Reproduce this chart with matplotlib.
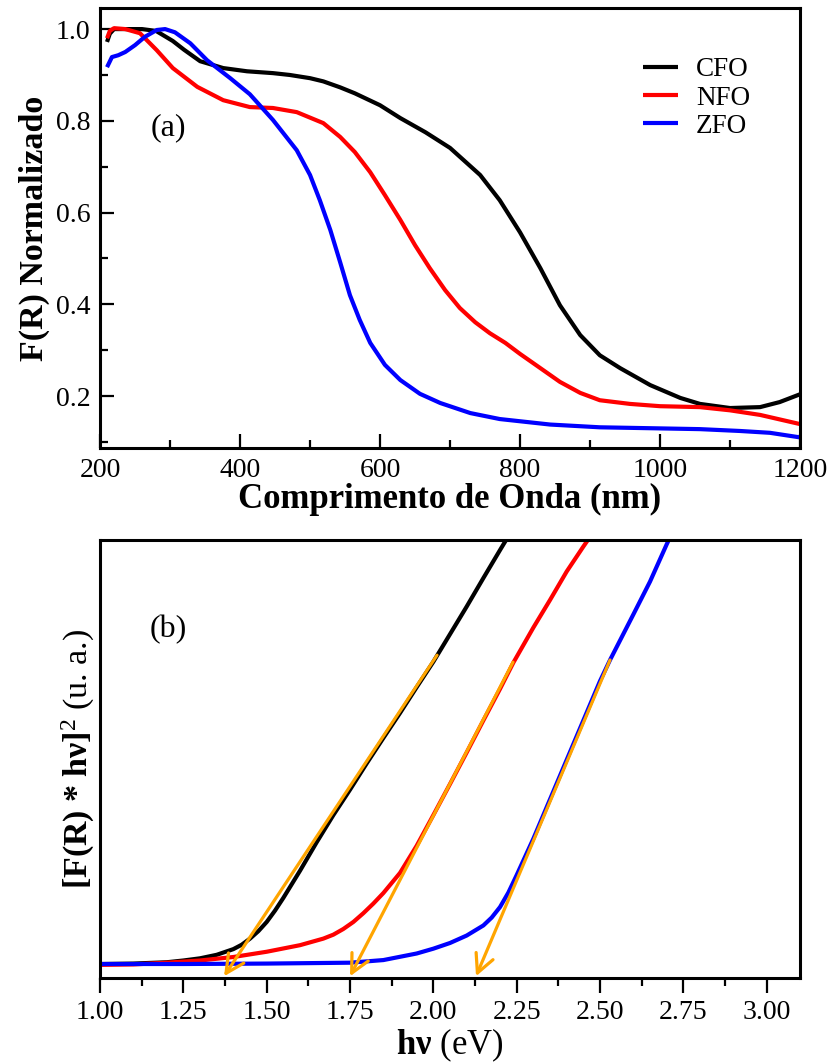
import numpy as np
import matplotlib
matplotlib.use('Agg')
import matplotlib.pyplot as plt
from matplotlib.ticker import MultipleLocator

plt.rcParams['font.family'] = 'Liberation Serif'
plt.rcParams['mathtext.fontset'] = 'custom'
plt.rcParams['mathtext.rm'] = 'Liberation Serif'
plt.rcParams['mathtext.bf'] = 'Liberation Serif:bold'
plt.rcParams['mathtext.it'] = 'Liberation Serif:italic'

samples = ['CFO', 'NFO', 'ZFO']
colors = ['black', 'red', 'blue']

# (a) normalised Kubelka-Munk spectra
wl_cfo = [210, 214, 220, 240, 260, 280, 304, 320, 343, 376, 410, 447, 471, 500, 519, 543,
          564, 600, 629, 665, 700, 743, 771, 800, 829, 857, 886, 914, 943, 986, 1029, 1057,
          1100, 1143, 1171, 1200]
fr_cfo = [0.972, 0.99, 1.0, 1.0, 1.0, 0.996, 0.974, 0.955, 0.93, 0.915, 0.908, 0.904, 0.90,
          0.893, 0.886, 0.873, 0.860, 0.834, 0.806, 0.775, 0.741, 0.682, 0.627, 0.557, 0.479,
          0.398, 0.333, 0.289, 0.261, 0.224, 0.196, 0.183, 0.174, 0.176, 0.187, 0.204]

wl_nfo = [210, 214, 220, 236, 257, 281, 304, 339, 376, 414, 447, 481, 519, 543, 564, 586,
          607, 629, 650, 671, 693, 714, 736, 757, 779, 800, 829, 857, 886, 914, 957, 1000,
          1057, 1100, 1143, 1200]
fr_nfo = [0.980, 0.996, 1.002, 1.0, 0.991, 0.954, 0.915, 0.874, 0.845, 0.830, 0.828, 0.819,
          0.795, 0.765, 0.732, 0.688, 0.638, 0.584, 0.529, 0.479, 0.431, 0.392, 0.361, 0.337,
          0.316, 0.292, 0.261, 0.231, 0.207, 0.191, 0.183, 0.178, 0.176, 0.169, 0.159, 0.139]

wl_zfo = [210, 217, 226, 236, 250, 264, 281, 293, 307, 329, 353, 386, 414, 447, 481, 500,
          514, 529, 543, 557, 571, 586, 607, 629, 657, 686, 729, 771, 843, 914, 986, 1057,
          1114, 1157, 1200]
fr_zfo = [0.917, 0.939, 0.943, 0.950, 0.965, 0.983, 0.998, 1.0, 0.993, 0.969, 0.932, 0.893,
          0.858, 0.802, 0.736, 0.682, 0.627, 0.562, 0.492, 0.420, 0.366, 0.316, 0.268, 0.235,
          0.205, 0.185, 0.163, 0.150, 0.138, 0.132, 0.130, 0.128, 0.124, 0.120, 0.110]

# (b) Tauc plot
hv_cfo = [1.0, 1.1, 1.2, 1.25, 1.3, 1.35, 1.4, 1.425, 1.45, 1.475, 1.5, 1.525, 1.55, 1.6,
          1.65, 1.7, 1.75, 1.8, 1.85, 1.9, 1.95, 2.0, 2.05, 2.1, 2.15, 2.2, 2.25]
tauc_cfo = [0.032, 0.033, 0.036, 0.040, 0.045, 0.053, 0.066, 0.076, 0.090, 0.107, 0.128,
            0.154, 0.183, 0.245, 0.310, 0.372, 0.430, 0.490, 0.548, 0.605, 0.664, 0.722,
            0.785, 0.848, 0.913, 0.977, 1.04]

hv_nfo = [1.0, 1.1, 1.2, 1.3, 1.4, 1.5, 1.6, 1.67, 1.7, 1.73, 1.76, 1.79, 1.82, 1.85, 1.9,
          1.95, 2.0, 2.05, 2.1, 2.15, 2.2, 2.24, 2.3, 2.35, 2.4, 2.45, 2.5]
tauc_nfo = [0.030, 0.031, 0.035, 0.040, 0.048, 0.060, 0.075, 0.090, 0.099, 0.112, 0.128,
            0.148, 0.170, 0.194, 0.240, 0.302, 0.372, 0.443, 0.515, 0.588, 0.660, 0.720,
            0.800, 0.863, 0.928, 0.985, 1.04]

hv_zfo = [1.0, 1.25, 1.5, 1.75, 1.85, 1.95, 2.0, 2.05, 2.1, 2.15, 2.175, 2.2, 2.225, 2.25,
          2.3, 2.35, 2.4, 2.45, 2.5, 2.53, 2.6, 2.65, 2.7, 2.75]
tauc_zfo = [0.032, 0.032, 0.033, 0.035, 0.041, 0.056, 0.067, 0.080, 0.097, 0.120, 0.138,
            0.162, 0.195, 0.235, 0.318, 0.408, 0.498, 0.588, 0.678, 0.726, 0.830, 0.905,
            0.990, 1.07]

# linear fits: start of the fitted segment and the extrapolated gap on the baseline
fit_hv = [2.011, 2.239, 2.53]
fit_y = [0.737, 0.721, 0.726]
gap_hv = [1.372, 1.75, 2.128]
gap_y = [0.004, 0.004, 0.004]

fig = plt.figure(figsize=(8.35, 10.64), dpi=100)
ax1 = fig.add_axes([0.1198, 0.579, 0.8383, 0.4135])
ax2 = fig.add_axes([0.1198, 0.0808, 0.8383, 0.4117])

for wl, fr, name, c in zip([wl_cfo, wl_nfo, wl_zfo], [fr_cfo, fr_nfo, fr_zfo], samples, colors):
    ax1.plot(wl, fr, color=c, lw=3, label=name, solid_capstyle='butt')

ax1.set_xlim(200, 1200)
ax1.set_ylim(0.087, 1.046)
ax1.xaxis.set_major_locator(MultipleLocator(200))
ax1.xaxis.set_minor_locator(MultipleLocator(100))
ax1.yaxis.set_major_locator(MultipleLocator(0.2))
ax1.yaxis.set_minor_locator(MultipleLocator(0.1))
ax1.tick_params(which='both', direction='in', top=False, right=False, width=1.6, labelsize=20)
ax1.tick_params(which='major', length=10, pad=7)
ax1.tick_params(which='minor', length=6)
ax1.set_xlabel('Comprimento de Onda (nm)', fontsize=25, fontweight='bold', labelpad=0)
ax1.set_ylabel('F(R) Normalizado', fontsize=24.5, fontweight='bold', labelpad=4)
ax1.text(297, 0.784, '(a)', fontsize=23, ha='center', va='center')
ax1.legend(loc='upper left', bbox_to_anchor=(0.776, 0.888), frameon=False, fontsize=19.5,
           handlelength=1.3, handletextpad=0.65, labelspacing=0.12, borderpad=0,
           borderaxespad=0)

for hv, t, c in zip([hv_cfo, hv_nfo, hv_zfo], [tauc_cfo, tauc_nfo, tauc_zfo], colors):
    ax2.plot(hv, t, color=c, lw=3)

for x0, y0, x1, y1 in zip(fit_hv, fit_y, gap_hv, gap_y):
    ax2.annotate('', xy=(x1, y1), xytext=(x0, y0),
                 arrowprops=dict(arrowstyle='->,head_length=0.6,head_width=0.3',
                                 color='orange', lw=2.3, shrinkA=0, shrinkB=0,
                                 mutation_scale=22))

ax2.set_xlim(1.0, 3.1)
ax2.set_ylim(0, 1)
ax2.xaxis.set_major_locator(MultipleLocator(0.25))
ax2.xaxis.set_minor_locator(MultipleLocator(0.125))
ax2.xaxis.set_major_formatter(plt.FormatStrFormatter('%.2f'))
ax2.set_yticks([])
ax2.tick_params(which='both', direction='out', top=False, right=False, width=1.6, labelsize=20)
ax2.tick_params(which='major', length=11, pad=5)
ax2.tick_params(which='minor', length=6)
ax2.set_xlabel(r'$\mathbf{h\nu}$ (eV)', fontsize=25, labelpad=1)
ax2.set_ylabel(r'$\mathbf{[F(R)\ {*}\ h\nu]}^{2}$ (u. a.)', fontsize=24.5, labelpad=2)
ax2.text(1.204, 0.795, '(b)', fontsize=23, ha='center', va='center')

for ax in (ax1, ax2):
    for s in ax.spines.values():
        s.set_linewidth(2.2)

fig.savefig('out.png', dpi=100)
